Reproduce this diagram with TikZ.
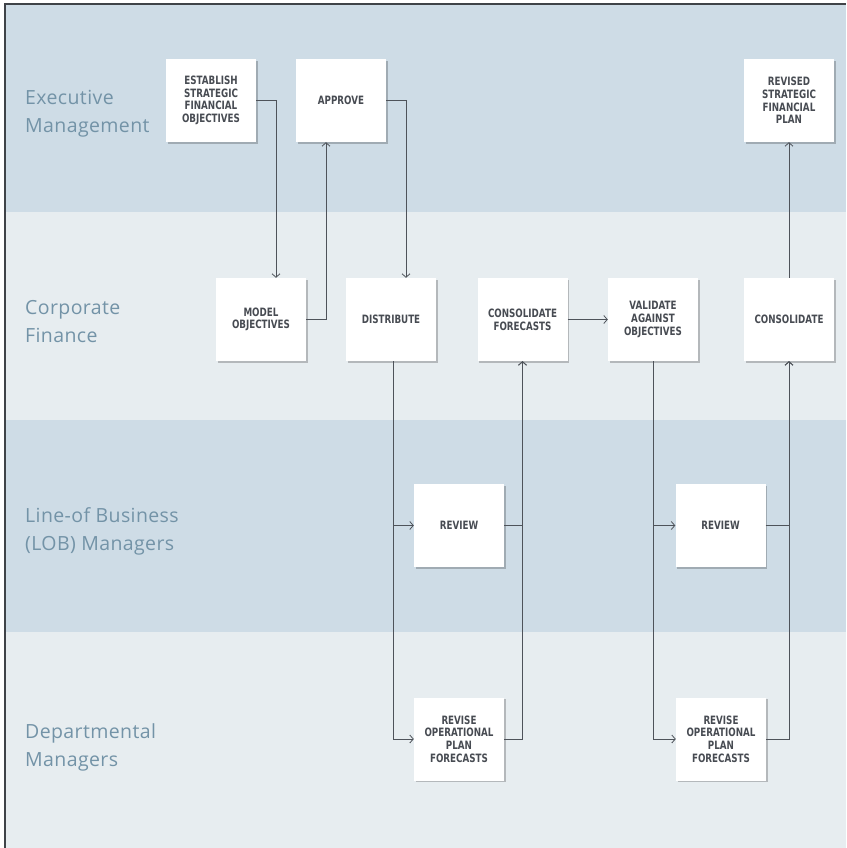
\documentclass[tikz,border=0pt]{standalone}
\usepackage{fontspec}
\setmainfont{Open Sans}
\newfontfamily\lanefont[LetterSpace=2]{Open Sans}
\newfontface\boxfont[FakeStretch=0.76]{DejaVu Sans Bold}
\usetikzlibrary{arrows.meta,shadows}
\definecolor{bandA}{HTML}{CEDCE6}
\definecolor{bandB}{HTML}{E7EDF0}
\definecolor{lanetext}{HTML}{7393A7}
\definecolor{linec}{HTML}{4E535A}
\definecolor{boxtext}{HTML}{474B52}
\definecolor{framec}{HTML}{3F4348}
\tikzset{
  procbox/.style={fill=white, minimum width=90pt, minimum height=83pt, inner sep=2pt,
    align=center, text=boxtext, font=\boxfont\fontsize{11.5}{12.7}\selectfont,
    drop shadow={shadow xshift=1.5pt, shadow yshift=-1.8pt, fill=black, opacity=0.22}},
  lane/.style={anchor=west, align=left, text=lanetext, inner sep=0pt,
    font=\lanefont\fontsize{19.5}{28}\selectfont},
  arr/.style={draw=linec, line width=0.8pt, -{Straight Barb[length=3.5pt,width=8pt]}},
  conn/.style={draw=linec, line width=0.8pt}
}
\begin{document}
\begin{tikzpicture}[x=1pt,y=-1pt]
\useasboundingbox (0,0) rectangle (846,848);
\fill[white] (0,0) rectangle (846,848);
\fill[bandA] (5,4) rectangle (846,212);
\fill[bandB] (5,212) rectangle (846,420);
\fill[bandA] (5,420) rectangle (846,632);
\fill[bandB] (5,632) rectangle (846,848);
\draw[framec, line width=1.3pt] (5,848) -- (5,4) -- (846,4);

% lane labels
\node[lane] (l1) at (25,114) {Executive\\Management};
\node[lane] (l2) at (25,322) {Corporate\\Finance};
\node[lane] (l3) at (25,531) {Line-of Business\\(LOB) Managers};
\node[lane] (l4) at (25,747) {Departmental\\Managers};

% boxes
\node[procbox] (est) at (211,100.5) {ESTABLISH\\STRATEGIC\\FINANCIAL\\OBJECTIVES};
\node[procbox] (appr) at (341,100.5) {APPROVE};
\node[procbox] (rsfp) at (789,100.5) {REVISED\\STRATEGIC\\FINANCIAL\\PLAN};
\node[procbox] (model) at (261,319.5) {MODEL\\OBJECTIVES};
\node[procbox] (dist) at (391,319.5) {DISTRIBUTE};
\node[procbox] (cf) at (522.5,319.5) {CONSOLIDATE\\FORECASTS};
\node[procbox] (val) at (653,319.5) {VALIDATE\\AGAINST\\OBJECTIVES};
\node[procbox] (cons) at (789,319.5) {CONSOLIDATE};
\node[procbox] (rev1) at (459,525.5) {REVIEW};
\node[procbox] (rev2) at (720.5,525.5) {REVIEW};
\node[procbox] (rvs1) at (459,739) {REVISE\\OPERATIONAL\\PLAN\\FORECASTS};
\node[procbox] (rvs2) at (721,739) {REVISE\\OPERATIONAL\\PLAN\\FORECASTS};

% connectors
\draw[arr] (est.east) -| ([xshift=15pt]model.north);
\draw[arr] (model.east) -| ([xshift=-15pt]appr.south);
\draw[arr] (appr.east) -| ([xshift=15pt]dist.north);
\draw[arr] ([xshift=2.5pt]dist.south) |- (rev1.west);
\draw[arr] ([xshift=2.5pt]dist.south) |- (rvs1.west);
\draw[arr] (rev1.east) -| (cf.south);
\draw[arr] (rvs1.east) -| (cf.south);
\draw[arr] (cf.east) -- (val.west);
\draw[arr] (val.south) |- (rev2.west);
\draw[arr] (val.south) |- (rvs2.west);
\draw[arr] (rev2.east) -| (cons.south);
\draw[arr] (rvs2.east) -| (cons.south);
\draw[arr] (cons.north) -- (rsfp.south);
\end{tikzpicture}
\end{document}
